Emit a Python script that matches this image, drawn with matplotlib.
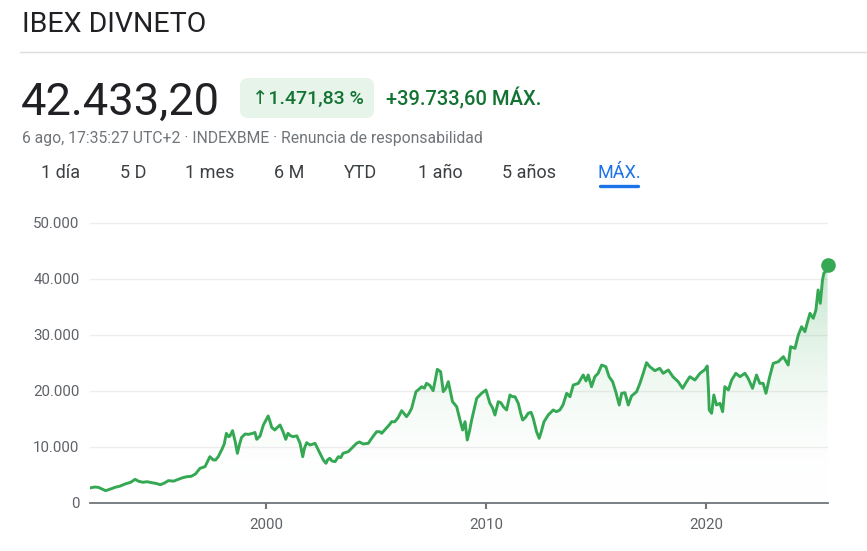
import matplotlib.pyplot as plt
import numpy as np
from matplotlib.patches import FancyBboxPatch
from matplotlib.transforms import IdentityTransform
from matplotlib.colors import LinearSegmentedColormap

plt.rcParams['font.family'] = ['Roboto', 'DejaVu Sans']

# values (year as decimal, index level)
years = [1992.05, 1992.2, 1992.38, 1992.55, 1992.71, 1992.9, 1993.14, 1993.35, 1993.6, 1993.85,
         1994.05, 1994.2, 1994.4, 1994.6, 1994.8, 1995.0, 1995.2, 1995.4, 1995.56, 1995.8,
         1996.0, 1996.17, 1996.4, 1996.6, 1996.8, 1997.0, 1997.23, 1997.45, 1997.6, 1997.71,
         1997.83, 1998.0, 1998.1, 1998.2, 1998.3, 1998.36, 1998.48, 1998.6, 1998.7, 1998.8,
         1998.89, 1999.05, 1999.2, 1999.4, 1999.5, 1999.58, 1999.73, 1999.88, 2000.1, 2000.18,
         2000.26, 2000.4, 2000.52, 2000.64, 2000.78, 2000.9, 2001.0, 2001.12, 2001.24, 2001.4,
         2001.55, 2001.67, 2001.75, 2001.85, 2002.0, 2002.12, 2002.23, 2002.38, 2002.53, 2002.62,
         2002.73, 2002.8, 2002.9, 2003.0, 2003.14, 2003.29, 2003.4, 2003.5, 2003.74, 2003.9,
         2004.12, 2004.25, 2004.42, 2004.65, 2004.85, 2005.03, 2005.18, 2005.26, 2005.5, 2005.64,
         2005.71, 2005.85, 2006.0, 2006.17, 2006.39, 2006.5, 2006.62, 2006.82, 2006.95, 2007.08,
         2007.2, 2007.3, 2007.45, 2007.6, 2007.72, 2007.79, 2007.94, 2008.06, 2008.18, 2008.29,
         2008.48, 2008.67, 2008.82, 2008.94, 2009.05, 2009.15, 2009.25, 2009.35, 2009.45, 2009.58,
         2009.8, 2010.0, 2010.18, 2010.3, 2010.41, 2010.56, 2010.68, 2010.79, 2010.94, 2011.09,
         2011.2, 2011.32, 2011.47, 2011.58, 2011.67, 2011.8, 2011.92, 2012.05, 2012.15, 2012.3,
         2012.42, 2012.52, 2012.64, 2012.83, 2013.06, 2013.2, 2013.36, 2013.5, 2013.67, 2013.82,
         2013.97, 2014.2, 2014.42, 2014.55, 2014.65, 2014.8, 2014.95, 2015.1, 2015.26, 2015.45,
         2015.6, 2015.76, 2015.9, 2016.06, 2016.17, 2016.32, 2016.47, 2016.62, 2016.85, 2017.0,
         2017.15, 2017.3, 2017.45, 2017.68, 2017.9, 2018.06, 2018.29, 2018.5, 2018.74, 2018.94,
         2019.12, 2019.27, 2019.5, 2019.73, 2019.95, 2020.06, 2020.12, 2020.15, 2020.26, 2020.36,
         2020.48, 2020.64, 2020.76, 2020.86, 2021.02, 2021.17, 2021.36, 2021.55, 2021.77, 2021.92,
         2022.12, 2022.3, 2022.45, 2022.6, 2022.73, 2022.88, 2023.06, 2023.29, 2023.52, 2023.74,
         2023.85, 2024.05, 2024.2, 2024.35, 2024.5, 2024.6, 2024.73, 2024.88, 2025.0, 2025.1,
         2025.2, 2025.3, 2025.36, 2025.49, 2025.53]
values = [2730, 2850, 2800, 2500, 2200, 2450, 2800, 3000, 3400, 3700,
          4230, 3900, 3700, 3800, 3630, 3500, 3270, 3600, 3990, 3900,
          4200, 4460, 4700, 4760, 5200, 6190, 6490, 8270, 7700, 7680,
          8270, 9600, 10500, 12440, 11840, 11960, 12920, 11000, 8870, 10500,
          11700, 12320, 12260, 12440, 12600, 11370, 11960, 13930, 15540, 14600,
          13510, 13040, 13500, 13930, 12700, 11370, 12440, 12000, 11840, 12000,
          10660, 8270, 9800, 10770, 10360, 10500, 10660, 9460, 8270, 7600,
          7090, 7700, 7980, 7500, 7380, 8270, 8100, 8870, 9170, 9800,
          10660, 10900, 10540, 10660, 11800, 12730, 12730, 12440, 13500, 14110,
          14520, 14500, 15200, 16490, 15420, 16000, 16900, 19880, 20300, 20770,
          20500, 21370, 21000, 20050, 22500, 23870, 23450, 19880, 20500, 21660,
          18090, 17200, 14820, 13040, 14520, 11250, 12800, 14820, 16500, 18700,
          19590, 20180, 17800, 17000, 15710, 18090, 17900, 17200, 16610, 19290,
          19000, 18980, 17800, 16000, 14820, 15300, 16020, 16200, 15120, 12730,
          11550, 12800, 14520, 15710, 16610, 16300, 16610, 17500, 19590, 18980,
          21070, 21370, 22860, 21800, 22860, 20770, 22550, 23160, 24640, 24340,
          22550, 21660, 19880, 17500, 19590, 19700, 17500, 19110, 19880, 21370,
          23160, 25060, 24340, 23630, 24050, 23160, 23750, 22550, 21660, 20480,
          21660, 22550, 21960, 23160, 23800, 24460, 20000, 16610, 16020, 19290,
          17500, 17800, 16310, 20770, 20180, 21960, 23160, 22550, 23160, 22260,
          20480, 22860, 21370, 21370, 19590, 22260, 24940, 25230, 26130, 24640,
          27910, 27620, 30000, 31480, 30590, 32090, 33870, 32980, 34460, 38040,
          35660, 39820, 41020, 41610, 42433.2]

y_ticks = [0, 10000, 20000, 30000, 40000, 50000]
x_ticks = [2000, 2010, 2020]
tabs = ['1 día', '5 D', '1 mes', '6 M', 'YTD', '1 año', '5 años', 'MÁX.']
tab_x = [61, 133, 210, 289, 361, 440, 529, 619]

GREEN = '#34a853'
W, H = 867, 551
fig = plt.figure(figsize=(W / 100, H / 100), dpi=100)


def fx(x):
    return x / W


def fy(y):
    return 1 - y / H


# header
fig.text(fx(22), fy(32), 'IBEX DIVNETO', fontsize=20.5, color='#202124', va='baseline')
fig.add_artist(plt.Line2D([fx(20), 1], [fy(52), fy(52)], color='#dadce0', lw=1))
fig.text(fx(21), fy(115), '42.433,20', fontsize=32.6, color='#202124', va='baseline')
pill = FancyBboxPatch((240, H - 118), 134, 40, boxstyle='round,pad=0,rounding_size=8',
                      facecolor='#e6f4ea', edgecolor='none', transform=IdentityTransform())
fig.add_artist(pill)
fig.text(fx(308), fy(105), '↑1.471,83 %', fontsize=14, color='#137333', va='baseline', ha='center',
         fontweight='medium')
fig.text(fx(386), fy(105), '+39.733,60 MÁX.', fontsize=14.5, color='#137333', va='baseline',
         fontweight='medium')
fig.text(fx(22), fy(143), '6 ago, 17:35:27 UTC+2 · INDEXBME · Renuncia de responsabilidad',
         fontsize=11.3, color='#70757a', va='baseline')
for label, x in zip(tabs, tab_x):
    col = '#1a73e8' if label == 'MÁX.' else '#3c4043'
    fig.text(fx(x), fy(178), label, fontsize=13, color=col, va='baseline', ha='center')
fig.add_artist(plt.Line2D([fx(600), fx(638)], [fy(186.5), fy(186.5)], color='#1a73e8',
                          lw=2.4, solid_capstyle='round'))

# chart
ax = fig.add_axes([fx(90), fy(503), fx(828) - fx(90), 285.6 / H])
grad = np.linspace(0, 1, 256).reshape(-1, 1)
cmap = LinearSegmentedColormap.from_list('fade', [(1, 1, 1, 0), (52 / 255, 168 / 255, 83 / 255, 0.3)])
img = ax.imshow(grad, extent=[years[0], years[-1], 0, max(values)], origin='lower',
                aspect='auto', cmap=cmap, zorder=1)
poly = ax.fill_between(years, values, 0, color='none', lw=0)
img.set_clip_path(poly.get_paths()[0], transform=ax.transData)

ax.plot(years, values, color=GREEN, lw=2.1, zorder=3, solid_joinstyle='round')
ax.plot(years[-1], values[-1], 'o', ms=9.5, color=GREEN, zorder=4, clip_on=False)

for v in y_ticks[1:]:
    ax.axhline(v, color='#ededed', lw=1, zorder=0)

ax.set_xlim(1992.0, 2025.55)
ax.set_ylim(0, 51000)
ax.set_yticks(y_ticks)
ax.set_yticklabels([f'{v:,}'.replace(',', '.') for v in y_ticks])
ax.set_xticks(x_ticks)
ax.set_xticklabels([str(x) for x in x_ticks])
ax.tick_params(axis='y', length=0, pad=7.5, labelsize=10.8, labelcolor='#5f6368')
ax.tick_params(axis='x', length=4.5, width=1.5, color='#70757a', pad=6,
               labelsize=10.8, labelcolor='#5f6368')
for s in ['top', 'right', 'left']:
    ax.spines[s].set_visible(False)
ax.spines['bottom'].set_color('#70757a')
ax.spines['bottom'].set_linewidth(1.3)

fig.savefig('out.png', dpi=100)
